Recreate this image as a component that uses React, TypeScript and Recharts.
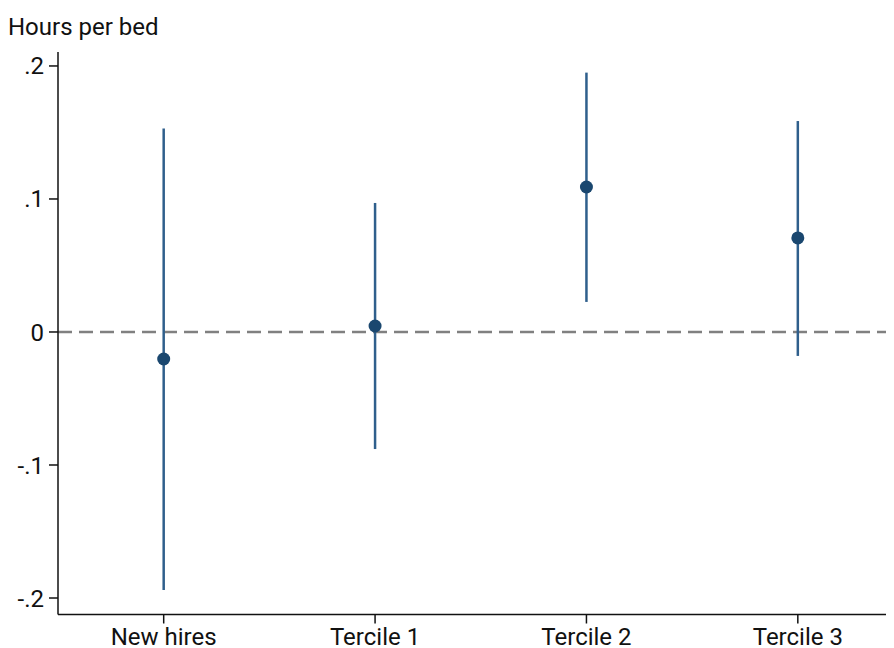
import {
  ComposedChart,
  ErrorBar,
  ReferenceLine,
  Scatter,
  XAxis,
  YAxis,
} from "recharts";

// Point estimates with 95% intervals, one per worker group.
const groups = ["New hires", "Tercile 1", "Tercile 2", "Tercile 3"];
const estimates = [-0.0203, 0.0045, 0.109, 0.0707];
const lower = [-0.194, -0.088, 0.0226, -0.018];
const upper = [0.153, 0.097, 0.195, 0.1586];
const yTicks = [-0.2, -0.1, 0, 0.1, 0.2];

const NAVY = "#1a476f";
const BAR = "#2f5f8c";
const FONT = "Roboto, 'Noto Sans', sans-serif";

const data = groups.map((name, i) => ({
  pos: i + 1,
  name,
  b: estimates[i],
  ci: [estimates[i] - lower[i], upper[i] - estimates[i]],
}));

// Stata-style labels: drop the leading zero (.2, -.1)
const fmtY = (v: number) => {
  if (v === 0) return "0";
  const s = String(Math.abs(v)).replace(/^0/, "");
  return v < 0 ? `-${s}` : s;
};

const Dot = (props: any) => <circle cx={props.cx} cy={props.cy} r={6.5} fill={NAVY} />;

export default function App() {
  return (
    <div style={{ position: "relative", width: 886, height: 640, fontFamily: FONT }}>
      <div
        style={{
          position: "absolute",
          left: 0,
          top: 5,
          fontSize: 24,
          color: "#111",
          whiteSpace: "nowrap",
        }}
      >
        Hours per bed
      </div>
      <ComposedChart
        width={886}
        height={640}
        data={data}
        margin={{ top: 44, right: 0, bottom: 0, left: 0 }}
        style={{ overflow: "visible" }}
      >
        <XAxis
          dataKey="pos"
          type="number"
          domain={[0.5, 4.455]}
          ticks={[1, 2, 3, 4]}
          tickFormatter={(v) => groups[v - 1]}
          axisLine={{ stroke: "#111", strokeWidth: 1.5 }}
          tickLine={{ stroke: "#111", strokeWidth: 1.5 }}
          tickSize={9}
          tickMargin={4}
          height={33.5}
          tick={{ fill: "#111", fontSize: 24, fontFamily: FONT }}
          allowDataOverflow
        />
        <YAxis
          type="number"
          domain={[-0.2124, 0.2105]}
          ticks={yTicks}
          tickFormatter={fmtY}
          axisLine={{ stroke: "#111", strokeWidth: 1.5 }}
          tickLine={{ stroke: "#111", strokeWidth: 1.5 }}
          tickSize={9}
          tickMargin={5}
          width={50}
          tick={{ fill: "#111", fontSize: 24, fontFamily: FONT }}
          allowDataOverflow
        />
        <ReferenceLine y={0} stroke="#808080" strokeWidth={2.5} strokeDasharray="14 7" />
        <Scatter dataKey="b" fill={NAVY} shape={Dot} isAnimationActive={false}>
          <ErrorBar
            dataKey="ci"
            direction="y"
            width={0}
            stroke={BAR}
            strokeWidth={2.5}
            isAnimationActive={false}
          />
        </Scatter>
      </ComposedChart>
    </div>
  );
}
